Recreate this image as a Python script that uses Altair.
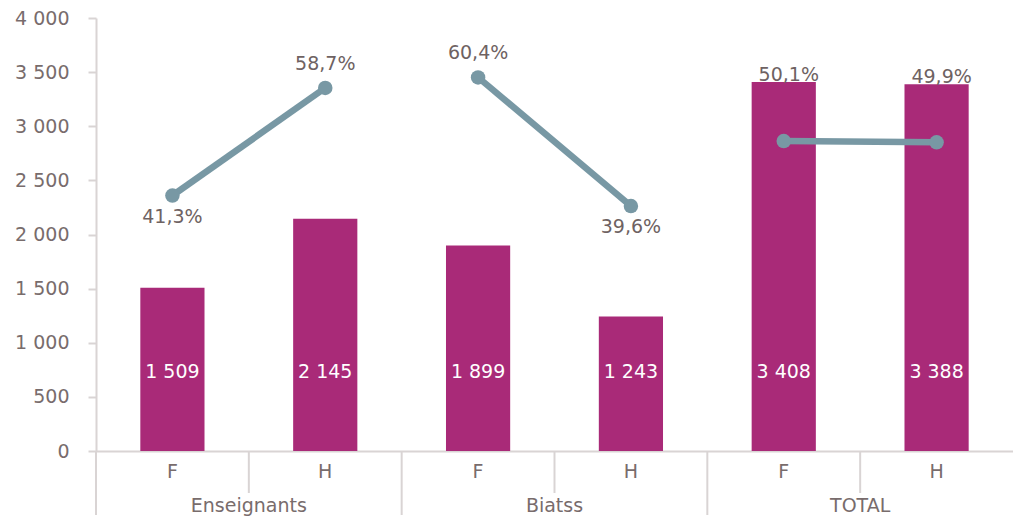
import altair as alt
import pandas as pd

groups = ["Enseignants", "Enseignants", "Biatss", "Biatss", "TOTAL", "TOTAL"]
sexes = ["F", "H", "F", "H", "F", "H"]
counts = [1509, 2145, 1899, 1243, 3408, 3388]
pcts = [41.3, 58.7, 60.4, 39.6, 50.1, 49.9]
y_ticks = [0, 500, 1000, 1500, 2000, 2500, 3000, 3500, 4000]

keys = [f"{g}|{s}" for g, s in zip(groups, sexes)]
df = pd.DataFrame({
    "key": keys,
    "group": groups,
    "sex": sexes,
    "count": counts,
    "pct": [p / 100 for p in pcts],
    "count_lbl": [f"{c:,}".replace(",", " ") for c in counts],
    "pct_lbl": [f"{p:.1f}%".replace(".", ",") for p in pcts],
})

FONT = "DejaVu Sans"
FS = 19
BAR = "#A92A78"
LINE = "#7898A4"
AXIS = "#D9D4D4"
TXT = "#786C6C"
PTXT = "#6E6262"

base = alt.Chart(df)
xscale = alt.Scale(paddingInner=0, paddingOuter=0)
ydom = alt.Scale(domain=[0, 4000])
pdom = alt.Scale(domain=[0, 0.70])

x_enc = alt.X(
    "key:N", sort=keys, scale=xscale, title=None,
    axis=alt.Axis(
        labelExpr="split(datum.value, '|')[1]", labelAngle=0, ticks=False,
        domainColor=AXIS, domainWidth=2, labelPadding=11,
        labelFont=FONT, labelFontSize=FS, labelColor=TXT,
    ),
)

bars = base.mark_bar(color=BAR, width=alt.RelativeBandSize(0.42)).encode(
    x=x_enc,
    y=alt.Y(
        "count:Q", scale=ydom, title=None,
        axis=alt.Axis(
            values=y_ticks, grid=False,
            labelExpr="replace(format(datum.value, ','), ',', ' ')",
            domainColor=AXIS, domainWidth=2, tickColor=AXIS, tickWidth=2,
            tickSize=8, labelPadding=19, labelFont=FONT, labelFontSize=FS,
            labelColor=TXT,
        ),
    ),
)

bar_lbl = base.mark_text(
    color="white", font=FONT, fontSize=FS, baseline="middle", dy=-79
).encode(
    x=alt.X("key:N", sort=keys),
    y=alt.YDatum(0, type="quantitative", scale=ydom, axis=None),
    text="count_lbl:N",
)

line = base.mark_line(color=LINE, strokeWidth=6.5).encode(
    x=alt.X("key:N", sort=keys),
    y=alt.Y("pct:Q", scale=pdom, axis=None),
    detail="group:N",
)

pts = base.mark_circle(color=LINE, size=210, opacity=1).encode(
    x=alt.X("key:N", sort=keys),
    y=alt.Y("pct:Q", scale=pdom, axis=None),
)

pct_base = base.transform_joinaggregate(maxp="max(pct)", groupby=["group"])

lbl_above = pct_base.transform_filter(
    "datum.group != 'TOTAL' && datum.pct == datum.maxp"
).mark_text(color=PTXT, font=FONT, fontSize=FS, baseline="middle", dy=-24).encode(
    x=alt.X("key:N", sort=keys),
    y=alt.Y("pct:Q", scale=pdom, axis=None),
    text="pct_lbl:N",
)

lbl_below = pct_base.transform_filter(
    "datum.group != 'TOTAL' && datum.pct < datum.maxp"
).mark_text(color=PTXT, font=FONT, fontSize=FS, baseline="middle", dy=21).encode(
    x=alt.X("key:N", sort=keys),
    y=alt.Y("pct:Q", scale=pdom, axis=None),
    text="pct_lbl:N",
)

lbl_total = base.transform_filter("datum.group == 'TOTAL'").mark_text(
    color=PTXT, font=FONT, fontSize=FS, baseline="alphabetic", dy=-1, dx=5
).encode(
    x=alt.X("key:N", sort=keys),
    y=alt.Y("count:Q", scale=ydom, axis=None),
    text="pct_lbl:N",
)

inner_ticks = base.transform_filter("datum.sex == 'H'").mark_rule(
    color=AXIS, strokeWidth=2
).encode(
    x=alt.X("key:N", sort=keys, bandPosition=0),
    y=alt.value(433),
    y2=alt.value(475),
)

group_ticks = base.transform_filter("datum.sex == 'F'").mark_rule(
    color=AXIS, strokeWidth=2
).encode(
    x=alt.X("key:N", sort=keys, bandPosition=0),
    y=alt.value(433),
    y2=alt.value(497),
)

group_lbl = base.transform_filter("datum.sex == 'F'").mark_text(
    color=TXT, font=FONT, fontSize=FS, baseline="alphabetic"
).encode(
    x=alt.X("key:N", sort=keys, bandPosition=1),
    y=alt.value(494),
    text="group:N",
)

chart = alt.layer(
    bars, bar_lbl, line, pts, lbl_above, lbl_below, lbl_total,
    inner_ticks, group_ticks, group_lbl,
).resolve_scale(y="independent").properties(
    width=917, height=433,
    padding={"left": 6, "top": 1, "right": 0, "bottom": 0},
).configure_view(stroke=None)

chart.save("out.html", embed_options={"renderer": "svg", "actions": False})
